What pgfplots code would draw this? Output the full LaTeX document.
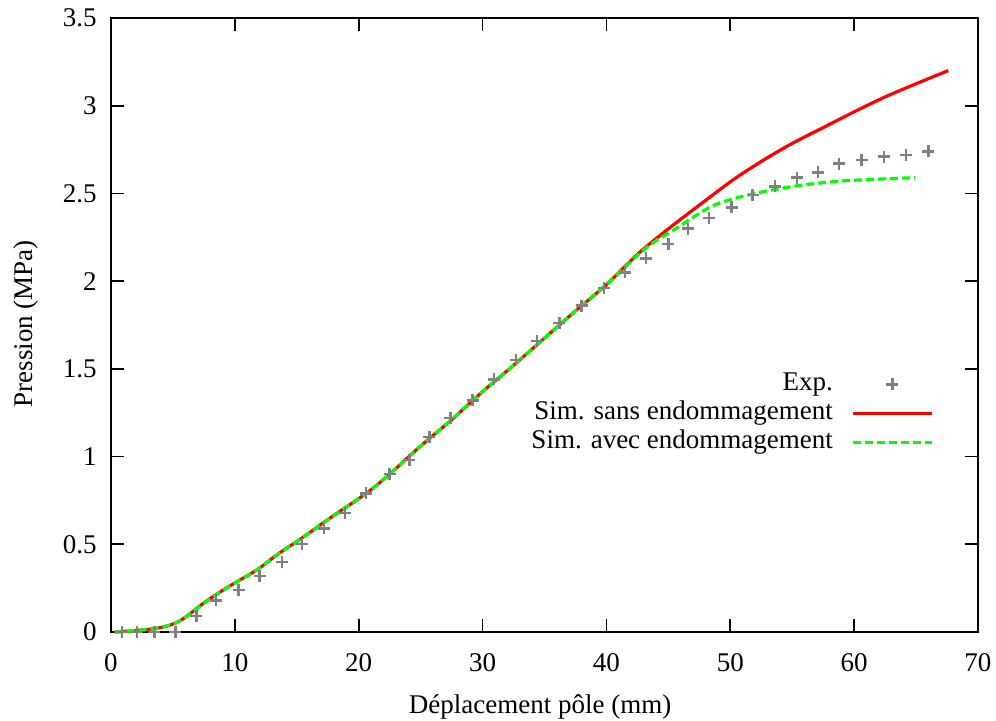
\documentclass[border=0pt]{standalone}
\usepackage{fontspec}
\setmainfont{Liberation Serif}
\usepackage{pgfplots}
\pgfplotsset{compat=1.18}
\definecolor{expgray}{RGB}{128,128,128}
\definecolor{simred}{RGB}{255,0,0}
\definecolor{simgreen}{RGB}{0,255,0}
\begin{document}
\fontsize{13.5pt}{16pt}\selectfont
\begin{tikzpicture}
\begin{axis}[
  name=ax,
  scale only axis,
  width=433.5pt, height=307pt,
  xmin=0, xmax=70, ymin=0, ymax=3.5,
  xtick={0,10,...,70},
  ytick={0,0.5,1,1.5,2,2.5,3,3.5},
  /pgf/number format/assume math mode=true,
  /pgf/number format/fixed,
  tick align=inside,
  major tick length=6.5pt,
  axis line style={line width=0.9pt},
  every tick/.style={line width=0.9pt, black},
  xticklabel style={yshift=-6pt},
  yticklabel style={xshift=-2.5pt},
  xlabel={Déplacement pôle (mm)},
  ylabel={Pression (MPa)},
  every axis x label/.style={at={(axis description cs:0.495,-0.132)}, anchor=base},
  every axis y label/.style={at={(axis description cs:-0.09,0.502)}, rotate=90, anchor=base},
  clip=false,
  legend style={draw=none, fill=none, inner sep=0pt, outer sep=0pt,
    at={(axis description cs:0.949,0.427)}, anchor=north east,
    column sep=8pt, row sep=0pt,
    nodes={inner sep=1pt, text height=9.3pt, text depth=3.2pt}},
  legend plot pos=right,
  legend cell align=right,
  legend image code/.code={\draw[mark repeat=2,mark phase=2,#1] plot coordinates {(0cm,0cm) (0.7cm,0cm) (1.4cm,0cm)};},
]
\addplot[only marks, mark=+, mark size=3pt, expgray, mark options={line width=1.2pt}] coordinates {
(0.9,0.0) (2.1,0.0) (3.5,0.0) (5.2,0.0) (6.9,0.09) (8.5,0.18) (10.3,0.24)
(12.0,0.32) (13.8,0.40) (15.4,0.50) (17.2,0.59) (18.9,0.68) (20.6,0.79)
(22.5,0.90) (24.1,0.98) (25.7,1.11) (27.4,1.22) (29.2,1.32) (30.9,1.44)
(32.7,1.55) (34.4,1.66) (36.2,1.76) (38.0,1.86) (39.8,1.96) (41.5,2.05)
(43.2,2.13) (45.0,2.21) (46.6,2.30) (48.3,2.36) (50.1,2.42) (51.8,2.49)
(53.6,2.54) (55.4,2.59) (57.1,2.62) (58.8,2.67) (60.6,2.69) (62.4,2.71)
(64.2,2.72) (66.0,2.74)
};
\addlegendentry{Exp.}
\addplot[simred, line width=1.6pt, smooth, no markers] coordinates {
(0.3,0.0) (1.5,0.005) (3,0.015) (4,0.025) (4.8,0.04) (5.6,0.065) (6.4,0.105)
(7.2,0.15) (8,0.19) (9.3,0.25) (10.5,0.30) (11.8,0.355) (13.6,0.45) (15.3,0.53)
(17.9,0.66) (20.6,0.79) (22.5,0.90) (25,1.06) (27.5,1.21) (30,1.37) (32.5,1.52)
(35,1.675) (37.5,1.83) (40,1.98) (42.7,2.165) (45.4,2.32) (48.1,2.465) (49.5,2.54)
(50.8,2.605) (52.8,2.695) (55,2.785) (57.5,2.875) (60,2.965) (62.5,3.05) (65,3.125) (67.6,3.2)
};
\addlegendentry{Sim. sans endommagement}
\addplot[simgreen, line width=1.6pt, smooth, no markers, dash pattern=on 4pt off 2pt] coordinates {
(0.3,0.0) (1.5,0.005) (3,0.015) (4,0.025) (4.8,0.04) (5.6,0.065) (6.4,0.105)
(7.2,0.15) (8,0.19) (9.3,0.25) (10.5,0.30) (11.8,0.355) (13.6,0.45) (15.3,0.53)
(17.9,0.66) (20.6,0.79) (22.5,0.90) (25,1.06) (27.5,1.21) (30,1.37) (32.5,1.52)
(35,1.675) (37.5,1.83) (40,1.98) (42.7,2.16) (44,2.23) (45.4,2.29) (46.7,2.35)
(48.6,2.43) (50.8,2.48) (53.4,2.52) (56.1,2.55) (58.8,2.57) (61.5,2.58) (64.9,2.59)
};
\addlegendentry{Sim. avec endommagement}
\end{axis}
\pgfresetboundingbox
\path ([shift={(-55.5pt,-44.5pt)}]ax.south west) rectangle ([shift={(442.5pt,316pt)}]ax.south west);
\end{tikzpicture}
\end{document}
